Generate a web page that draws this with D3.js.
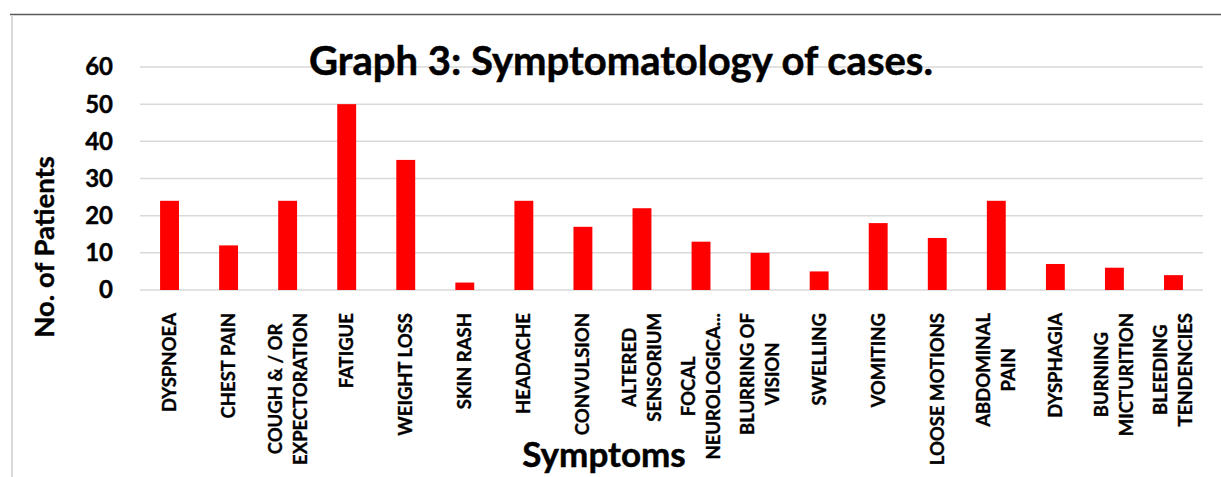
<!DOCTYPE html>
<html>
<head>
<meta charset="utf-8">
<script src="https://cdn.jsdelivr.net/npm/d3@7"></script>
<style>
  body { margin: 0; background: #fff; }
  svg { display: block; font-family: Lato, "Open Sans", sans-serif; font-weight: bold; }
</style>
</head>
<body>
<div id="chart"></div>
<script>
// symptom labels ("\n" = line break in the tick label)
const symptoms = [
  "DYSPNOEA", "CHEST PAIN", "COUGH & / OR\nEXPECTORATION", "FATIGUE", "WEIGHT LOSS",
  "SKIN RASH", "HEADACHE", "CONVULSION", "ALTERED\nSENSORIUM", "FOCAL\nNEUROLOGICA...",
  "BLURRING OF\nVISION", "SWELLING", "VOMITING", "LOOSE MOTIONS", "ABDOMINAL\nPAIN",
  "DYSPHAGIA", "BURNING\nMICTURITION", "BLEEDING\nTENDENCIES"
];
const patients = [24, 12, 24, 50, 35, 2, 24, 17, 22, 13, 10, 5, 18, 14, 24, 7, 6, 4];
const yTicks = [0, 10, 20, 30, 40, 50, 60];

const width = 1221, height = 477;
const margin = { top: 67, right: 18, bottom: 187, left: 140 };

const svg = d3.select("#chart").append("svg")
    .attr("width", width)
    .attr("height", height);

// outer frame (top + left edges only are visible)
svg.append("line")
    .attr("x1", 10).attr("x2", width).attr("y1", 14.5).attr("y2", 14.5)
    .attr("stroke", "#595959").attr("stroke-width", 1.5);
svg.append("line")
    .attr("x1", 12).attr("x2", 12).attr("y1", 15).attr("y2", height)
    .attr("stroke", "#d9d9d9").attr("stroke-width", 2);

const x = d3.scaleBand()
    .domain(symptoms)
    .range([margin.left, width - margin.right])
    .paddingInner(0.68)
    .paddingOuter(0.34);

const y = d3.scaleLinear()
    .domain([0, 60])
    .range([height - margin.bottom, margin.top]);

// gridlines
svg.append("g")
    .selectAll("line")
    .data(yTicks)
    .join("line")
    .attr("x1", margin.left)
    .attr("x2", width - margin.right)
    .attr("y1", d => y(d))
    .attr("y2", d => y(d))
    .attr("stroke", "#d9d9d9")
    .attr("stroke-width", 1.5);

// y tick labels
svg.append("g")
    .selectAll("text")
    .data(yTicks)
    .join("text")
    .attr("x", 113)
    .attr("y", d => y(d))
    .attr("dy", "0.35em")
    .attr("text-anchor", "end")
    .attr("font-size", 24)
    .attr("fill", "#000")
    .attr("stroke", "#000").attr("stroke-width", 0.4)
    .text(d => d);

// bars
svg.append("g")
    .selectAll("rect")
    .data(symptoms)
    .join("rect")
    .attr("x", d => x(d))
    .attr("width", x.bandwidth())
    .attr("y", (d, i) => y(patients[i]))
    .attr("height", (d, i) => y(0) - y(patients[i]))
    .attr("fill", "#ff0000");

// rotated category labels, lines centred on each other, block top at labelTop
const labelTop = 313, lineGap = 25;
svg.append("g")
    .selectAll("g")
    .data(symptoms)
    .join("g")
    .each(function(d) {
        const lines = d.split("\n");
        const g = d3.select(this);
        const cx = x(d) + x.bandwidth() / 2;
        const texts = lines.map(ln => g.append("text")
            .attr("font-size", 18.5)
            .attr("fill", "#000")
            .attr("stroke", "#000").attr("stroke-width", 0.35)
            .attr("text-anchor", "middle")
            .text(ln));
        const maxW = d3.max(texts, t => t.node().getComputedTextLength());
        texts.forEach((t, j) => {
            const off = (j - (lines.length - 1) / 2) * lineGap;
            t.attr("transform", `translate(${cx + off},${labelTop + maxW / 2}) rotate(-90)`)
             .attr("dy", "0.35em");
        });
    });

// title
svg.append("text")
    .attr("x", 621)
    .attr("y", 75)
    .attr("text-anchor", "middle")
    .attr("font-size", 40)
    .attr("fill", "#000")
    .attr("stroke", "#000").attr("stroke-width", 0.5)
    .text("Graph 3: Symptomatology of cases.");

// axis titles
svg.append("text")
    .attr("transform", "translate(54,247) rotate(-90)")
    .attr("text-anchor", "middle")
    .attr("font-size", 27.5)
    .attr("fill", "#000")
    .attr("stroke", "#000").attr("stroke-width", 0.4)
    .text("No. of Patients");

svg.append("text")
    .attr("x", 604)
    .attr("y", 467)
    .attr("text-anchor", "middle")
    .attr("font-size", 35)
    .attr("fill", "#000")
    .attr("stroke", "#000").attr("stroke-width", 0.5)
    .text("Symptoms");
</script>
</body>
</html>
